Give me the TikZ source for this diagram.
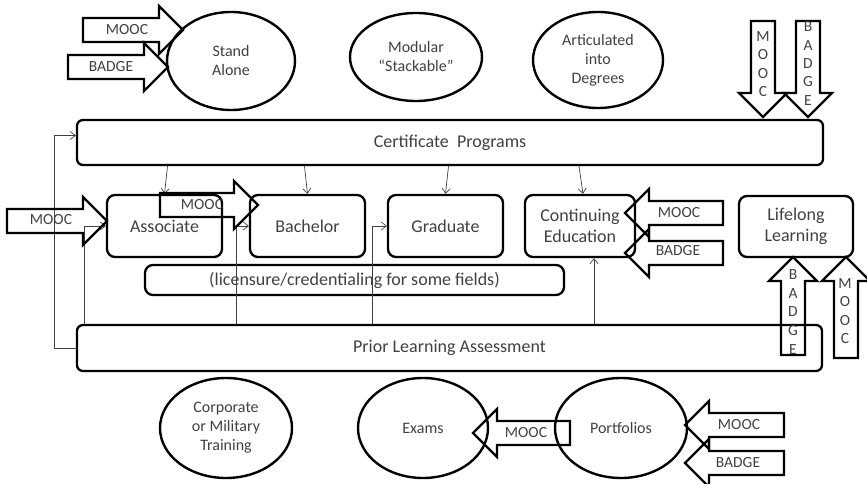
\documentclass[tikz,border=0pt]{standalone}
\usepackage{fontspec}
\setmainfont{Carlito}
\usetikzlibrary{positioning,arrows.meta,shapes.geometric}

% block arrow: tip, direction angle, total length
\newcommand{\blockarrow}[3]{%
  \begin{scope}[shift={#1}, rotate=#2]
    \draw[barrow] (0,0) -- (-24,24) -- (-24,12) -- (-#3,12) -- (-#3,-12)
      -- (-24,-12) -- (-24,-24) -- cycle;
  \end{scope}}

\begin{document}
\begin{tikzpicture}[
  x=1pt, y=-1pt,
  every node/.style={text=black!75, font=\fontsize{16}{19}\selectfont},
  box/.style={
    draw=black, line width=2.3pt, rounded corners=8pt,
    align=center, font=\fontsize{18}{21}\selectfont
  },
  oval/.style={ellipse, draw=black, line width=2.4pt, align=center},
  barrow/.style={draw=black, line width=2.4pt, line join=miter},
  tag/.style={font=\fontsize{15.5}{18}\selectfont},
  vtag/.style={align=center, font=\fontsize{15.5}{18.6}\selectfont},
  conn/.style={draw=black!75, line width=0.7pt, -{Straight Barb[length=5pt,width=8pt]}}
]
  \useasboundingbox (0,0) rectangle (867,484);

  % Top ovals
  \node[oval, minimum width=128, minimum height=98] (stand) at (231,61) {Stand\\Alone};
  \node[oval, minimum width=132, minimum height=88] (modular) at (416,57) {Modular\\``Stackable''};
  \node[oval, minimum width=130, minimum height=96] (artic) at (598,60) {Articulated\\into\\Degrees};

  % Main bars
  \node[box, rounded corners=6pt, minimum width=746, minimum height=45] (cert) at (450,142.5) {Certificate\ \ Programs};
  \node[box, rounded corners=6pt, minimum width=745, minimum height=46] (pla) at (449.5,348) {Prior Learning Assessment};

  % Degree row
  \node[box, minimum width=115, minimum height=62] (assoc) at (164.5,226) {Associate};
  \node[box, minimum width=115, minimum height=62] (bach) at (307.5,226) {Bachelor};
  \node[box, minimum width=115, minimum height=62] (grad) at (445.5,226) {Graduate};
  \node[box, minimum width=110, minimum height=62] (ce) at (580,226) {Continuing\\Education};
  \node[box, minimum width=114, minimum height=61] (life) at (796,226.5) {Lifelong\\Learning};
  \node[box, minimum width=419, minimum height=30] (lic) at (354.5,280) {(licensure/credentialing for some fields)};

  % Bottom ovals
  \node[oval, minimum width=132, minimum height=100] (corp) at (226,428) {Corporate\\or Military\\Training};
  \node[oval, minimum width=130, minimum height=100] (exams) at (423,428) {Exams};
  \node[oval, minimum width=132, minimum height=100] (port) at (621,428) {Portfolios};

  % Connectors
  \draw[conn] (pla.west) -- ++(-22,0) |- ([yshift=7pt]cert.west);
  \draw[conn] ([xshift=3pt]assoc.north |- cert.south) -- (assoc.north);
  \draw[conn] ([xshift=-3pt]bach.north |- cert.south) -- (bach.north);
  \draw[conn] ([xshift=3pt]grad.north |- cert.south) -- (grad.north);
  \draw[conn] ([xshift=-1pt]ce.north |- cert.south) -- ([xshift=3pt]ce.north);
  \draw[conn] ([xshift=-22pt]assoc.west |- pla.north) |- (assoc.west);
  \draw[conn] ([xshift=-13pt]bach.west |- pla.north) |- (bach.west);
  \draw[conn] ([xshift=-15pt]grad.west |- pla.north) |- (grad.west);
  \draw[conn] ([xshift=14pt]ce.south |- pla.north) -- ([xshift=14pt]ce.south);

  % Block arrows
  \blockarrow{(183,30)}{0}{100}
  \blockarrow{(168,67)}{0}{100}
  \blockarrow{(763,117)}{-90}{96}
  \blockarrow{(808,117)}{-90}{96}
  \blockarrow{(107,221)}{0}{100}
  \blockarrow{(258,205)}{0}{98}
  \blockarrow{(625,213)}{180}{98}
  \blockarrow{(625,253)}{180}{98}
  \blockarrow{(793,257)}{90}{98}
  \blockarrow{(846,257)}{90}{101}
  \blockarrow{(473,433)}{180}{97}
  \blockarrow{(685,425)}{180}{99}
  \blockarrow{(685,463)}{180}{99}

  % Arrow labels
  \node[tag] (mooc1) at (127,30) {MOOC};
  \node[tag] (badge1) at (111,67) {BADGE};
  \node[vtag] (mooc2) at (763,64) {M\\O\\O\\C};
  \node[vtag, font=\fontsize{15.5}{18.3}\selectfont] (badge2) at (808,63.5) {B\\A\\D\\G\\E};
  \node[tag] (mooc3) at (51,220) {MOOC};
  \node[tag] (mooc4) at (202,205) {MOOC};
  \node[tag] (mooc5) at (679,213) {MOOC};
  \node[tag] (badge3) at (678,251) {BADGE};
  \node[vtag, font=\fontsize{15.5}{18.8}\selectfont] (badge4) at (793,312) {B\\A\\D\\G\\E};
  \node[vtag] (mooc6) at (845,311) {M\\O\\O\\C};
  \node[tag] (mooc7) at (526,433) {MOOC};
  \node[tag] (mooc8) at (739,425) {MOOC};
  \node[tag] (badge5) at (738,463) {BADGE};
\end{tikzpicture}
\end{document}
